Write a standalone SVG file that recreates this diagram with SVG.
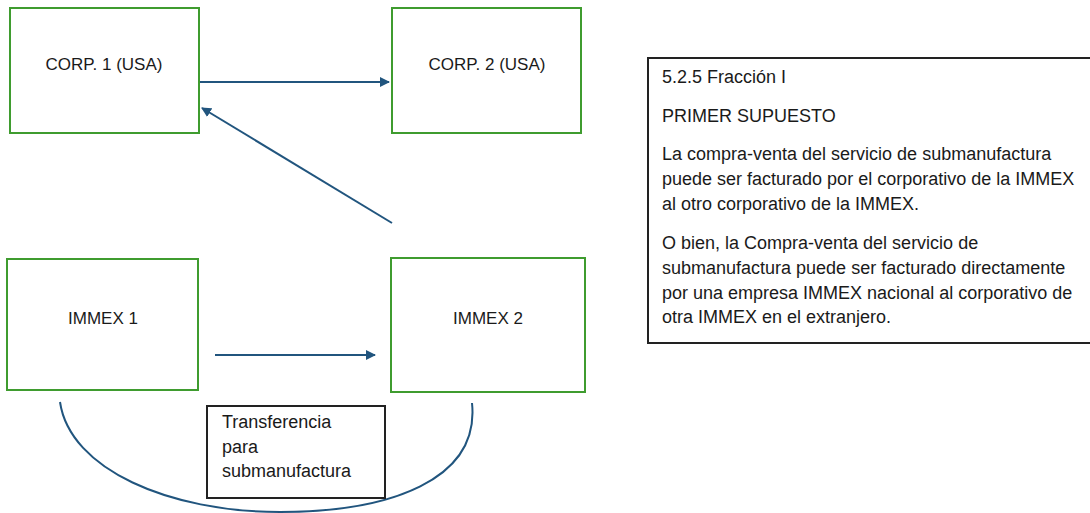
<svg xmlns="http://www.w3.org/2000/svg" width="1090" height="513" viewBox="0 0 1090 513">
<style>
.node{fill:#fff;stroke:#3f9c2f;stroke-width:2}
.lbl{font-family:"Liberation Sans",Arial,sans-serif;font-size:17px;fill:#1a1a1a;text-anchor:middle}
.txt{font-family:"Liberation Sans",Arial,sans-serif;font-size:18px;fill:#1a1a1a}
.con{fill:none;stroke:#21557e;stroke-width:2}
.box{fill:#fff;stroke:#222;stroke-width:2}
</style>
<defs>
<marker id="ah" viewBox="0 0 10 10" refX="9" refY="5" markerWidth="5" markerHeight="5" orient="auto" markerUnits="strokeWidth">
<path d="M0,0 L10,5 L0,10 z" fill="#21557e"/>
</marker>
</defs>
<rect width="1090" height="513" fill="#fff"/>
<g id="corp1"><rect class="node" x="10" y="8" width="189" height="125"/><text class="lbl" x="104" y="70">CORP. 1 (USA)</text></g>
<g id="corp2"><rect class="node" x="392" y="8" width="189" height="125"/><text class="lbl" x="487" y="70">CORP. 2 (USA)</text></g>
<g id="immex1"><rect class="node" x="7" y="259" width="191" height="131"/><text class="lbl" x="103" y="324">IMMEX 1</text></g>
<g id="immex2"><rect class="node" x="391" y="258" width="194" height="134"/><text class="lbl" x="488" y="324">IMMEX 2</text></g>
<g id="connectors">
<line class="con" x1="200" y1="82" x2="389" y2="82" marker-end="url(#ah)"/>
<line class="con" x1="392" y1="223" x2="202" y2="108" marker-end="url(#ah)"/>
<line class="con" x1="215" y1="355" x2="375" y2="355" marker-end="url(#ah)"/>
<path class="con" d="M60,402 C70,470 170,512 280,512 C390,512 480,480 472,403"/>
</g>
<g id="label"><rect class="box" x="207" y="406" width="178" height="92"/>
<text class="txt" x="222" y="428">Transferencia</text>
<text class="txt" x="222" y="453">para</text>
<text class="txt" x="222" y="477">submanufactura</text></g>
<g id="note"><rect class="box" x="648" y="58" width="460" height="285"/>
<text class="txt" x="662" y="83">5.2.5 Fracción I</text>
<text class="txt" x="662" y="122">PRIMER SUPUESTO</text>
<text class="txt" x="662" y="160">La compra-venta del servicio de submanufactura</text>
<text class="txt" x="662" y="185">puede ser facturado por el corporativo de la IMMEX</text>
<text class="txt" x="662" y="210">al otro corporativo de la IMMEX.</text>
<text class="txt" x="662" y="249">O bien, la Compra-venta del servicio de</text>
<text class="txt" x="662" y="274">submanufactura puede ser facturado directamente</text>
<text class="txt" x="662" y="299">por una empresa IMMEX nacional al corporativo de</text>
<text class="txt" x="662" y="323">otra IMMEX en el extranjero.</text>
</g>
</svg>
